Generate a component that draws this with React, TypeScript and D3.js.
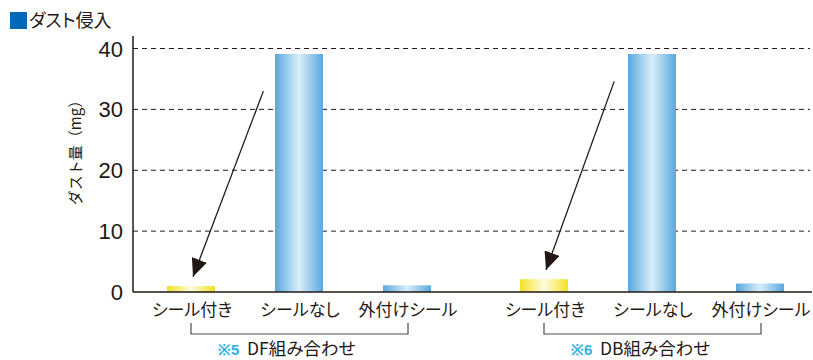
import React from "react";
import * as d3 from "d3";

// Dust intrusion (mg) by seal type, for two combinations
const groups = ["DF", "DB"];
const groupNotes = ["※5", "※6"];
const groupNames = ["DF組み合わせ", "DB組み合わせ"];
const categories = ["シール付き", "シールなし", "外付けシール"];
const dfValues = [1.0, 39.1, 1.1];
const dbValues = [2.1, 39.1, 1.4];
const yTicks = [0, 10, 20, 30, 40];

// Arrows pointing at the sealed bars: start at a fractional category index and value
const arrowStartIndex = [0.67, 0.65];
const arrowStartValue = [33.0, 34.6];
const arrowTipGap = 1.5;

const W = 813;
const H = 360;
const plotLeft = 133;
const plotRight = 812;
const y0 = 292;
const y40 = 48.5;
const barWidth = 48;
const barStep = 108;

const ink = "#231815";
const jpFont = "'Noto Sans CJK JP', 'Noto Sans', sans-serif";
const numFont = "'Liberation Sans', Arial, sans-serif";
// proportional kana metrics, as in typeset Japanese
const jpStyle = { fontFeatureSettings: '"palt"' } as React.CSSProperties;

export default function App() {
  const series = [dfValues, dbValues];
  const y = d3.scaleLinear().domain([0, 40]).range([y0, y40]);
  const gx = d3.scalePoint<string>().domain(groups).range([299, 652]);
  const ix = d3.scaleLinear().domain([0, 2]).range([-barStep, barStep]);
  const xAt = (g: number, i: number) => (gx(groups[g]) as number) + ix(i);

  return (
    <svg width={W} height={H} style={{ display: "block", position: "absolute", left: 0, top: 0 }}>
      <defs>
        <linearGradient id="blueBar" x1="0" x2="1" y1="0" y2="0">
          <stop offset="0" stopColor="#5aa7dd" />
          <stop offset="0.5" stopColor="#d8effa" />
          <stop offset="1" stopColor="#5aa7dd" />
        </linearGradient>
        <linearGradient id="yellowBar" x1="0" x2="1" y1="0" y2="0">
          <stop offset="0" stopColor="#f2e22a" />
          <stop offset="0.5" stopColor="#fffbdc" />
          <stop offset="1" stopColor="#f2e22a" />
        </linearGradient>
        <marker id="arrowHead" viewBox="0 0 18 16" refX="18" refY="8" markerWidth="18" markerHeight="16"
          markerUnits="userSpaceOnUse" orient="auto">
          <path d="M0,0 L18,8 L0,16 Z" fill={ink} />
        </marker>
      </defs>

      {/* title */}
      <rect x={10} y={12} width={17} height={17} fill="#0068b7" />
      <text x={29} y={27} fontFamily={jpFont} fontSize={18} fill={ink} style={jpStyle}>ダスト侵入</text>

      {/* grid lines */}
      {yTicks.filter((t) => t > 0).map((t) => (
        <line key={t} x1={plotLeft} x2={810} y1={y(t)} y2={y(t)} stroke={ink} strokeWidth={1}
          strokeDasharray="5,4" />
      ))}

      {/* y tick labels */}
      {yTicks.map((t) => (
        <text key={t} x={123} y={y(t) + 8} textAnchor="end" fontFamily={numFont} fontSize={22} fill={ink}>
          {t}
        </text>
      ))}

      {/* y axis title */}
      <text transform={`translate(81,149) rotate(-90)`} textAnchor="middle" fontFamily={jpFont} fontSize={15}
        fill={ink}>ダスト量（mg）</text>

      {/* bars */}
      {series.map((vals, g) =>
        vals.map((v, i) => (
          <rect key={`${g}-${i}`} x={xAt(g, i) - barWidth / 2} y={y(v)} width={barWidth} height={y(0) - y(v)}
            fill={i === 0 ? "url(#yellowBar)" : "url(#blueBar)"} />
        ))
      )}

      {/* axes */}
      <line x1={plotLeft} x2={plotLeft} y1={36} y2={y(0)} stroke={ink} strokeWidth={1.5} />
      <line x1={plotLeft} x2={plotRight} y1={y(0)} y2={y(0)} stroke={ink} strokeWidth={1.5} />

      {/* arrows */}
      {series.map((vals, g) => (
        <line key={`arr-${g}`} x1={xAt(g, arrowStartIndex[g])} y1={y(arrowStartValue[g])} x2={xAt(g, 0) + 2}
          y2={y(vals[0] + arrowTipGap)} stroke={ink} strokeWidth={1.3} markerEnd="url(#arrowHead)" />
      ))}

      {/* category labels */}
      {series.map((_, g) =>
        categories.map((c, i) => (
          <text key={`c-${g}-${i}`} x={xAt(g, i) + 1} y={316} textAnchor="middle" fontFamily={jpFont} fontSize={17}
            fill={ink} style={jpStyle}>{c}</text>
        ))
      )}

      {/* group brackets and names */}
      {groups.map((gname, g) => {
        const a = xAt(g, 0);
        const b = xAt(g, 2) + 1;
        return (
          <g key={`b-${gname}`}>
            <path d={`M${a},323 V334 H${b} V323`} fill="none" stroke="#4d4d4d" strokeWidth={1.2} />
            <text x={a + 27} y={355} fontFamily={numFont} fontSize={15} fontWeight="bold" fill="#2fb0e6">
              {groupNotes[g]}
            </text>
            <text x={a + 56} y={355} fontFamily={jpFont} fontSize={17.5} fill={ink} style={jpStyle}>
              {groupNames[g]}
            </text>
          </g>
        );
      })}
    </svg>
  );
}
